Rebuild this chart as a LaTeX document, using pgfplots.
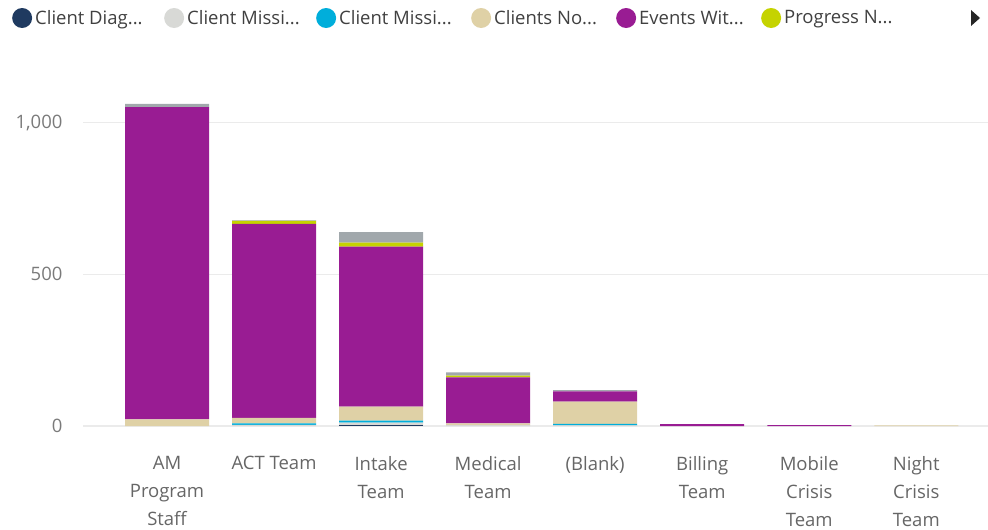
\documentclass[border=0pt]{standalone}
\usepackage{pgfplots}
\pgfplotsset{compat=1.18}
\usepackage{pgfplotstable}
\usepackage{fontspec}
\setmainfont{Open Sans}
\definecolor{cnavy}{HTML}{1F3A60}
\definecolor{clgrey}{HTML}{D8D9D6}
\definecolor{ccyan}{HTML}{00AEDB}
\definecolor{ctan}{HTML}{DFD1A6}
\definecolor{cpurple}{HTML}{991C93}
\definecolor{cyellow}{HTML}{C5D300}
\definecolor{cgrey}{HTML}{A1A8AC}
\definecolor{gridc}{HTML}{EBEBEB}
\definecolor{tickc}{HTML}{7A7A7A}
\definecolor{labc}{HTML}{666666}
\definecolor{legc}{HTML}{404040}
\pgfplotstableread{
x navy lgrey cyan tan purple yellow grey
0 0 0 0 22 1029 0 11
1 0 4 5 18 639 10 2
2 3 8 7 46 527 13 35
3 0 3 0 6 151 6 11
4 0 2 5 73 34 0 4
5 0 0 0 0 6 0 0
6 0 0 0 0 3 0 0
7 0 0 0 2 0 0 0
}\datatable
\begin{document}
\begin{tikzpicture}[x=1pt,y=1pt]
\path[use as bounding box] (0,0) rectangle (988,530);
\begin{axis}[
  at={(83pt,104pt)}, anchor=south west,
  scale only axis, width=905pt, height=331pt,
  ybar stacked, bar width=84pt,
  xmin=-0.785, xmax=7.67, ymin=0, ymax=1091,
  axis line style={draw=none},
  major tick length=0pt,
  ymajorgrids, grid style={color=gridc, line width=1.5pt},
  xtick={0,...,7},
  xticklabels={{AM\\Program\\Staff},{ACT Team},{Intake\\Team},{Medical\\Team},{(Blank)},{Billing\\Team},{Mobile\\Crisis\\Team},{Night\\Crisis\\Team}},
  xticklabel style={align=center, font=\fontsize{18.5}{28}\selectfont, text=labc, anchor=north, yshift=-27pt},
  ytick={0,500,1000},
  yticklabel style={font=\fontsize{18.5}{22}\selectfont, text=tickc, xshift=-17pt},
  /pgf/number format/assume math mode=true,
  /pgf/number format/1000 sep={,},
  scaled y ticks=false,
  legend style={at={(-0.0785,1.2326)}, anchor=west, legend columns=-1, draw=none, fill=none, inner sep=0pt,
    font=\fontsize{18.5}{22}\selectfont, text=legc,
    /tikz/every odd column/.style={column sep=1pt},
    /tikz/every even column/.style={column sep=0pt}},
  legend image code/.code={\fill[#1,draw=none] (0pt,0pt) circle (10pt);},
]
\addplot[fill=cnavy, draw=none] table[x=x, y=navy] {\datatable};
\addlegendentry{\makebox[127pt][l]{Client Diag...}}
\addplot[fill=clgrey, draw=none] table[x=x, y=lgrey] {\datatable};
\addlegendentry{\makebox[127pt][l]{Client Missi...}}
\addplot[fill=ccyan, draw=none] table[x=x, y=cyan] {\datatable};
\addlegendentry{\makebox[130pt][l]{Client Missi...}}
\addplot[fill=ctan, draw=none] table[x=x, y=tan] {\datatable};
\addlegendentry{\makebox[120pt][l]{Clients No...}}
\addplot[fill=cpurple, draw=none] table[x=x, y=purple] {\datatable};
\addlegendentry{\makebox[120pt][l]{Events Wit...}}
\addplot[fill=cyellow, draw=none] table[x=x, y=yellow] {\datatable};
\addlegendentry{\makebox[120pt][l]{Progress N...}}
\addplot[fill=cgrey, draw=none] table[x=x, y=grey] {\datatable};
\end{axis}
\fill[black!85] (971,504) -- (980,512) -- (971,520) -- cycle;
\end{tikzpicture}
\end{document}
